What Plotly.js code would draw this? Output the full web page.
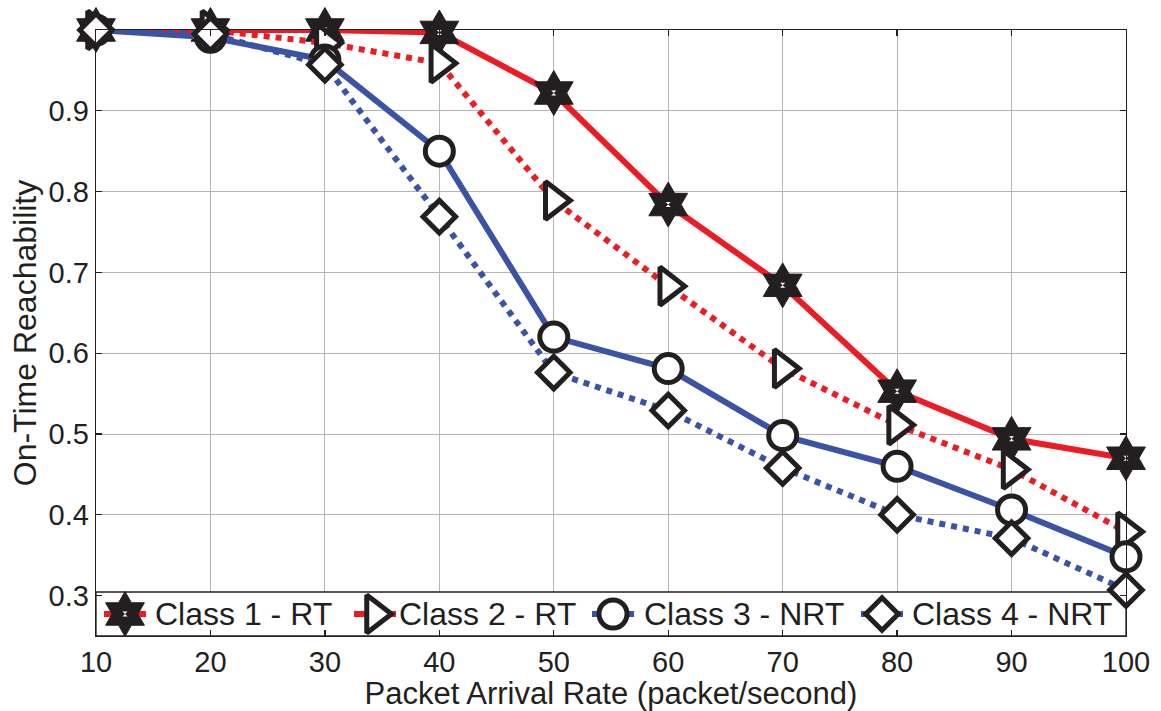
<!DOCTYPE html>
<html>
<head>
<meta charset="utf-8">
<script src="https://cdn.plot.ly/plotly-3.0.1.min.js"></script>
<style>
  html, body { margin: 0; padding: 0; background: #ffffff; }
  #chart { width: 1161px; height: 711px; }
</style>
</head>
<body>
<div id="chart"></div>
<script>
// Packet arrival rate (packet/second)
const arrivalRate = [10, 20, 30, 40, 50, 60, 70, 80, 90, 100];

// On-time reachability per traffic class
const class1RT  = [1.000, 1.000, 1.000, 0.997, 0.922, 0.784, 0.684, 0.553, 0.494, 0.470];
const class2RT  = [1.000, 1.000, 0.984, 0.959, 0.789, 0.683, 0.581, 0.511, 0.456, 0.379];
const class3NRT = [1.000, 0.991, 0.963, 0.850, 0.620, 0.581, 0.498, 0.460, 0.406, 0.348];
const class4NRT = [1.000, 0.995, 0.957, 0.769, 0.576, 0.529, 0.458, 0.400, 0.371, 0.307];

const seriesNames = ['Class 1 - RT', 'Class 2 - RT', 'Class 3 - NRT', 'Class 4 - NRT'];
const xTickVals = [10, 20, 30, 40, 50, 60, 70, 80, 90, 100];
const yTickVals = [0.3, 0.4, 0.5, 0.6, 0.7, 0.8, 0.9];
const yTickText = ['0.3', '0.4', '0.5', '0.6', '0.7', '0.8', '0.9'];

const RED = '#ec1c24';
const BLUE = '#3a53a4';
const INK = '#231f20';
const FONT = 'Arial, "Liberation Sans", Helvetica, sans-serif';

// Figure geometry (pixels)
const W = 1161, H = 711;
const M = { l: 96, r: 35, t: 30, b: 75 };
const plotLeft = M.l, plotRight = W - M.r, plotTop = M.t, plotBottom = H - M.b;
const Y_MIN = 0.25, Y_MAX = 1.0;

// Marker styles per class: symbol, size, fill
const styles = [
  { color: RED,  dash: 'solid', symbol: 'hexagram',       size: 34, fill: INK },
  { color: RED,  dash: 'dot',   symbol: 'triangle-right', size: 33, fill: '#ffffff' },
  { color: BLUE, dash: 'solid', symbol: 'circle',         size: 28, fill: '#ffffff' },
  { color: BLUE, dash: 'dot',   symbol: 'diamond',        size: 25, fill: '#ffffff' }
];

function markerOf(s) {
  return {
    symbol: s.symbol, size: s.size, color: s.fill,
    line: { color: INK, width: s.fill === INK ? 1 : 5 }
  };
}

function series(y, i) {
  const s = styles[i];
  return {
    x: arrivalRate, y: y, name: seriesNames[i],
    type: 'scatter', mode: 'lines+markers', showlegend: false,
    cliponaxis: false,
    line: { color: s.color, width: 6, dash: s.dash },
    marker: markerOf(s)
  };
}

// Legend frame: white box along the bottom of the plot area (hides the grid under it)
const legendTopPx = 592;
const legendTopVal = Y_MIN + (plotBottom - legendTopPx) / (plotBottom - plotTop) * (Y_MAX - Y_MIN);
const legendBox = {
  x: [10, 100, 100, 10, 10], y: [Y_MIN, Y_MIN, legendTopVal, legendTopVal, Y_MIN],
  type: 'scatter', mode: 'lines', fill: 'toself', fillcolor: '#ffffff',
  line: { color: INK, width: 1.3 }, hoverinfo: 'skip', showlegend: false, cliponaxis: false
};

const traces = [legendBox];
[class1RT, class2RT, class3NRT, class4NRT].forEach((y, i) => {
  traces.push(series(y, i));
  if (i === 0) {
    // small white pip in the centre of each star
    traces.push({
      x: arrivalRate, y: y, type: 'scatter', mode: 'markers', showlegend: false,
      cliponaxis: false,
      marker: { symbol: 'hourglass', size: 5, color: '#ffffff', line: { width: 0 } }
    });
  }
});

// Legend entries, laid out on a pixel-unit overlay axis pair
const legendRowY = 614;
const legendSampleX = [125, 375, 613, 882];
const legendTextX = [153, 397, 642, 910];
const sampleHalf = 21;
const annotations = [];
styles.forEach((s, i) => {
  const cx = legendSampleX[i];
  traces.push({
    x: [cx - sampleHalf, cx + sampleHalf], y: [legendRowY, legendRowY],
    xaxis: 'x2', yaxis: 'y2', type: 'scatter', mode: 'lines', showlegend: false,
    cliponaxis: false, hoverinfo: 'skip',
    line: { color: s.color, width: 6, dash: 'solid' }
  });
  traces.push({
    x: [cx], y: [legendRowY],
    xaxis: 'x2', yaxis: 'y2', type: 'scatter', mode: 'markers', showlegend: false,
    cliponaxis: false, hoverinfo: 'skip',
    marker: markerOf(s)
  });
  if (i === 0) {
    traces.push({
      x: [cx], y: [legendRowY], xaxis: 'x2', yaxis: 'y2', type: 'scatter', mode: 'markers',
      showlegend: false, cliponaxis: false, hoverinfo: 'skip',
      marker: { symbol: 'hourglass', size: 5, color: '#ffffff', line: { width: 0 } }
    });
  }
  annotations.push({
    xref: 'x2', yref: 'y2', x: legendTextX[i], y: legendRowY,
    xanchor: 'left', yanchor: 'middle', showarrow: false,
    text: seriesNames[i], font: { family: FONT, size: 32, color: INK }
  });
});

const axisCommon = {
  showline: true, linecolor: INK, linewidth: 1.3, mirror: 'ticks',
  ticks: 'inside', ticklen: 6, tickwidth: 1.3, tickcolor: INK,
  showgrid: true, gridcolor: '#b5b5b5', gridwidth: 1,
  zeroline: false,
  tickfont: { family: FONT, size: 29, color: INK }
};

const layout = {
  width: W, height: H,
  margin: M,
  paper_bgcolor: '#ffffff', plot_bgcolor: '#ffffff',
  font: { family: FONT, color: INK },
  showlegend: false,
  annotations: annotations,
  xaxis: Object.assign({}, axisCommon, {
    range: [10, 100], tickvals: xTickVals,
    title: { text: 'Packet Arrival Rate (packet/second)', font: { family: FONT, size: 31, color: INK }, standoff: 3 }
  }),
  yaxis: Object.assign({}, axisCommon, {
    range: [Y_MIN, Y_MAX], tickvals: yTickVals, ticktext: yTickText,
    title: { text: 'On-Time Reachability', font: { family: FONT, size: 32, color: INK }, standoff: 2 }
  }),
  xaxis2: { overlaying: 'x', range: [plotLeft, plotRight], visible: false, fixedrange: true },
  yaxis2: { overlaying: 'y', range: [plotBottom, plotTop], visible: false, fixedrange: true }
};

Plotly.newPlot('chart', traces, layout, { displayModeBar: false, staticPlot: true });
</script>
</body>
</html>
